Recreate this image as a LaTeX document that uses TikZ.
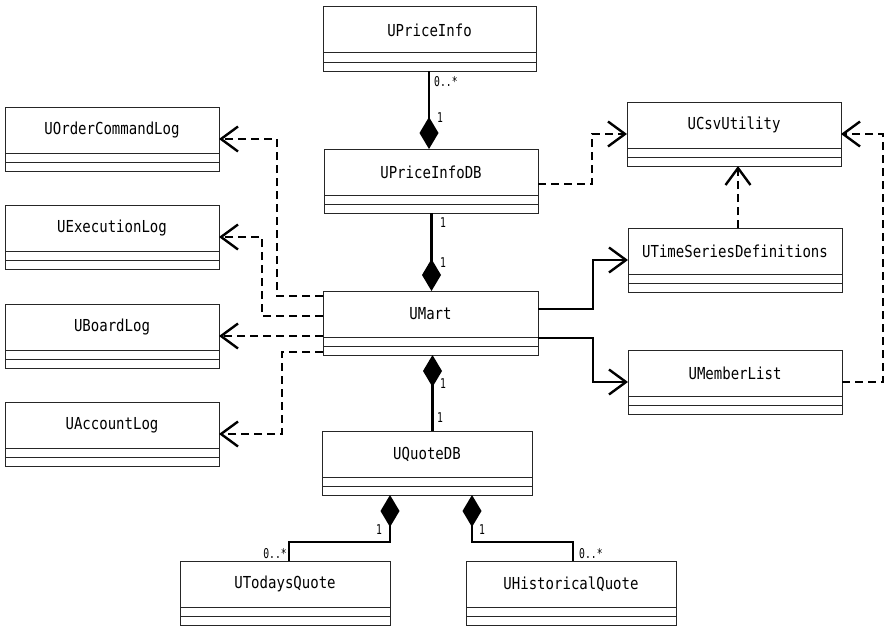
\documentclass[tikz,border=0pt]{standalone}
\usepackage{fontspec}
\setmonofont[FakeStretch=0.85]{DejaVu Sans Mono}
\newfontfamily\multfont[FakeStretch=0.72]{DejaVu Sans Mono}
\usetikzlibrary{arrows.meta}

% A UML class box: name compartment plus two empty compartments.
% #1 node name, #2 x, #3 y (top left), #4 width, #5 class name
\newcommand\umlclass[5]{%
  \node[classbox, minimum width=#4pt, anchor=north west] (#1) at (#2,#3) {};
  \draw[boxline] ([yshift=-46pt]#1.north west) -- ([yshift=-46pt]#1.north east);
  \draw[boxline] ([yshift=-55pt]#1.north west) -- ([yshift=-55pt]#1.north east);
  \node[classname] at ([yshift=-23pt]#1.north) {#5};
}

\begin{document}
\begin{tikzpicture}[x=1pt, y=-1pt,
  boxline/.style={line width=1pt, draw=black!85},
  classbox/.style={rectangle, draw=black!85, line width=1pt, minimum height=64pt,
    inner sep=0pt, outer sep=0pt},
  classname/.style={font=\ttfamily\fontsize{16.5}{16.5}\selectfont, inner sep=0pt},
  mult/.style={font=\multfont\fontsize{13.5}{14}\selectfont, inner sep=0pt},
  comp/.style={line width=2.6pt, {Diamond[length=32pt, width=19pt]}-},
  dep/.style={line width=2.4pt, dash pattern=on 8pt off 5pt,
    -{Straight Barb[length=17pt, width=25pt, line width=2.4pt]}},
  assoc/.style={line width=2.6pt,
    -{Straight Barb[length=17pt, width=25pt, line width=2.4pt]}},
]
\useasboundingbox (0,0) rectangle (885,626);

% classes
\umlclass{PI}{323}{7}{213}{UPriceInfo}
\umlclass{PIDB}{324}{149}{214}{UPriceInfoDB}
\umlclass{UMart}{323}{291}{215}{UMart}
\umlclass{QDB}{322}{431}{210}{UQuoteDB}
\umlclass{TQ}{180}{561}{210}{UTodaysQuote}
\umlclass{HQ}{466}{561}{210}{UHistoricalQuote}
\umlclass{OCL}{5}{107}{214}{UOrderCommandLog}
\umlclass{EL}{5}{205}{214}{UExecutionLog}
\umlclass{BL}{5}{304}{214}{UBoardLog}
\umlclass{AL}{5}{402}{214}{UAccountLog}
\umlclass{CSV}{627}{102}{214}{UCsvUtility}
\umlclass{TSD}{628}{228}{214}{UTimeSeriesDefinitions}
\umlclass{ML}{628}{350}{214}{UMemberList}

% compositions
\draw[comp] ([xshift=-2pt]PIDB.north) -- ([xshift=-2pt]PIDB.north |- PI.south);
\draw[comp] ([xshift=1pt]UMart.north) -- ([xshift=1pt]UMart.north |- PIDB.south);
\draw[comp] ([xshift=2pt]UMart.south) -- ([xshift=2pt]UMart.south |- QDB.north);
\draw[comp] ([xshift=68pt]QDB.south west) -- ++(0,47) -| ([xshift=4pt]TQ.north);
\draw[comp] ([xshift=150pt]QDB.south west) -- ++(0,47) -| ([xshift=2pt]HQ.north);

% dependencies to the log classes
\draw[dep] ([yshift=-5pt]UMart.north west) -| ([xshift=58pt]OCL.east) -- (OCL.east);
\draw[dep] ([yshift=-25pt]UMart.north west) -| ([xshift=43pt]EL.east) -- (EL.east);
\draw[dep] (BL.east -| UMart.west) -- (BL.east);
\draw[dep] ([yshift=-61pt]UMart.north west) -| ([xshift=63pt]AL.east) -- (AL.east);

% dependencies to UCsvUtility
\draw[dep] ([yshift=-35pt]PIDB.north east) -| ([xshift=-35pt]CSV.west) -- (CSV.west);
\draw[dep] ([xshift=3pt]TSD.north) -- ([xshift=3pt]TSD.north |- CSV.south);
\draw[dep] (ML.east) -| ([xshift=42pt]CSV.east) -- (CSV.east);

% associations
\draw[assoc] ([yshift=-18pt]UMart.north east) -| ([xshift=-35pt]TSD.west) -- (TSD.west);
\draw[assoc] ([yshift=-47pt]UMart.north east) -| ([xshift=-35pt]ML.west) -- (ML.west);

% multiplicities
\node[mult, anchor=west] (m1) at (434,82) {0..*};
\node[mult, anchor=west] (m2) at (437,118) {1};
\node[mult, anchor=west] (m3) at (440,223) {1};
\node[mult, anchor=west] (m4) at (440,263) {1};
\node[mult, anchor=west] (m5) at (440,384) {1};
\node[mult, anchor=west] (m6) at (437,418) {1};
\node[mult] (m7) at (379,530) {1};
\node[mult, anchor=east] (m8) at (287,554) {0..*};
\node[mult] (m9) at (482,530) {1};
\node[mult, anchor=west] (m10) at (579,554) {0..*};
\end{tikzpicture}
\end{document}
